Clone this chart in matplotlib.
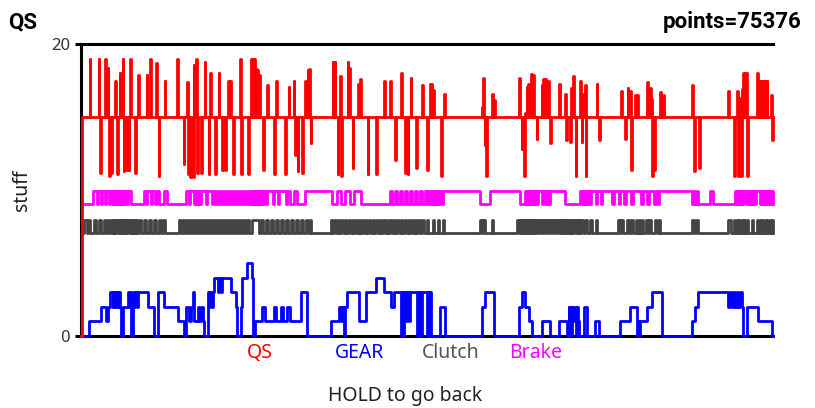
import matplotlib
matplotlib.use("Agg")
import matplotlib.pyplot as plt

plt.rcParams['font.family'] = ['Noto Sans', 'DejaVu Sans']

# ---------------- data (time axis in arbitrary sample units) ----------------
T_START, T_END = 80, 773
TOTAL_POINTS = 75376

# QS: baseline 15 with short pulses up / down
qs_base = 15
qs_spike_t = [88.7, 97.7, 99.3, 104.3, 106.7, 108.3, 110.3, 114.3, 116, 118.7, 121.7, 122.7, 125.3, 127.7,
              129.3, 134.3, 137, 145.7, 149, 155, 157.7, 163.7, 176, 182.7, 186, 187.5, 189.3, 192, 192.7,
              195, 196, 200, 203.7, 207.7, 209.3, 214.3, 217.7, 221.7, 224.3, 227.7, 229.3, 232, 239.3,
              240.5, 247.7, 250, 251.5, 253, 255, 256.5, 258, 262, 266, 273.7, 275.3, 284.3, 288, 293,
              294.7, 297, 301.3, 304.3, 307, 308.7, 310, 332, 334, 337, 339.3, 340.3, 347, 348.7, 352,
              357.3, 359.7, 367, 375.3, 383.7, 389.3, 394.7, 400.7, 404.7, 407, 410, 415.3, 421.3, 426.3,
              429.3, 430.7, 433, 440.7, 444, 481.3, 483, 484.2, 485.7, 492, 494, 519, 521.3, 523.7, 524.7,
              526.3, 528, 530.7, 533, 536.3, 541.3, 543, 544.7, 548, 549.7, 559, 564.7, 565.7, 569.7,
              570.7, 573, 575.3, 579.7, 581.3, 582, 584.7, 585.3, 596.3, 598.7, 620.7, 624.7, 627.3, 630,
              631.2, 634.7, 636.7, 646.7, 649.7, 650.7, 652.3, 654, 660, 663, 692.3, 694, 699, 728.3, 734,
              736.7, 738, 739, 741.3, 741.9, 743.3, 744.8, 745.7, 746.7, 747.3, 757.3, 759, 760.5, 762,
              763.5, 765, 766.5, 771.3, 771.9]
qs_spike_v = [19, 19, 11.2, 19, 18.4, 11.0, 11.2, 17.5, 11.1, 18, 19, 11.3, 11.4, 11.4,
              19, 11.2, 17.9, 17.9, 19, 18.7, 11.0, 17.5, 19, 11.8, 17.4, 11.1, 10.9, 10.9, 18.6,
              19, 11.2, 11.2, 18.8, 11.1, 18, 11.1, 18, 11.4, 11.4, 17.5, 17.5, 11.1, 19,
              11.1, 11.1, 19, 19, 19, 18.3, 18.2, 17.9, 11.4, 17.2, 11.1, 17.5, 11.1, 17.1, 17.5,
              12.4, 11.3, 11.2, 17.5, 18.2, 18.3, 13.2, 18.8, 18.8, 11.1, 17.8, 11.0, 18.8, 18.4, 11.5,
              17.3, 17.6, 11.1, 11.1, 17.45, 17.5, 12.05, 18.0, 11.2, 11.1, 17.7, 11.5, 17.2, 11.4,
              17.3, 17.3, 16.85, 11.0, 16.6, 15.7, 17.65, 13.1, 11.0, 16.6, 16.2, 17.65, 12.85, 11.0, 15.3,
              17.1, 17.3, 17.95, 17.9, 13.5, 17.2, 17.6, 17.6, 17.5, 13.2, 17.3, 16.6, 13.4, 13.3,
              17.0, 17.8, 11.0, 17.5, 13.3, 16.6, 17.2, 11.0, 17.3, 13.4, 16.8, 13.5, 17.0, 16.8,
              11.4, 16.5, 16.5, 17.4, 17.0, 16.25, 11.0, 11.4, 16.7, 16.5, 17.2, 11.3, 11.5, 16.8, 11.0,
              16.8, 11.0, 16.3, 11.0, 16.95, 18.0, 18.0, 18.0, 16.4, 11.0, 18.0, 17.5, 17.5, 17.5,
              17.5, 17.5, 17.5, 16.5, 13.4]

# GEAR: step series (time, gear)
gear_t = [80, 88.3, 100, 105, 106.7, 109.3, 111.7, 112.3, 114.3, 115, 116.7, 117.3, 119, 120, 121.7,
          126.7, 128.3, 129, 130, 131.7, 133.3, 134, 136, 136.7, 146.7, 153.3, 156.7, 163.3, 176.7,
          183.3, 185, 188.3, 190, 191.7, 193.3, 196.7, 198.3, 200, 201.7, 203.3, 206.7, 208.3, 209.3,
          210.7, 211.7, 213.3, 216.7, 218.3, 220, 221.7, 230, 235, 236.7, 240, 241.7, 246.7, 251,
          252.7, 254, 261.7, 264, 273.3, 275, 280, 282.7, 286.7, 289.3, 300, 306.7, 330, 338.3, 340,
          341.7, 343.3, 344.3, 346.7, 358.3, 365, 375, 383.3, 390, 393.3, 400, 401, 402, 403, 405,
          406.5, 408, 409.5, 411.7, 416.7, 417.5, 418.5, 419.5, 420.5, 421.7, 426.7, 427.5, 428.5,
          429.5, 430.5, 440, 445, 481.7, 485, 493.3, 518.3, 521.7, 525, 528.3, 531.7, 541.7, 550,
          558.3, 566.7, 568.3, 569, 570, 571, 572, 573, 574, 576, 577, 578, 579, 583.3, 586.7, 595,
          598.3, 620, 630, 636.7, 637.5, 639, 640, 646.7, 651.7, 661.7, 691.7, 695, 698.3, 728.3,
          730, 732, 733.5, 735, 736.5, 738, 740, 741.5, 743.3, 746.7, 758.3, 771.7, 773]
gear_v = [0, 1, 2, 1, 2, 3, 2, 3, 2, 3, 2, 3, 2, 0, 2,
          3, 2, 3, 0, 3, 2, 3, 2, 3, 2, 0, 3, 2, 1,
          0, 2, 1, 2, 3, 1, 2, 1, 2, 1, 0, 3, 2, 3,
          2, 3, 4, 3, 4, 3, 4, 3, 2, 0, 2, 4, 5, 4,
          0, 1, 2, 1, 2, 1, 2, 1, 2, 1, 3, 0, 1, 2, 1,
          2, 0, 2, 3, 1, 3, 4, 3, 2, 3, 0, 3, 0, 3, 1,
          3, 1, 3, 3, 0, 3, 0, 3, 0, 3, 0, 3, 0,
          3, 0, 2, 0, 2, 3, 0, 2, 3, 2, 1, 0, 1, 0,
          1, 0, 2, 0, 2, 0, 2, 1, 2, 0, 2, 1, 0, 2, 0, 1,
          0, 1, 2, 0, 1, 0, 1, 2, 3, 0, 1, 2, 3, 2,
          3, 2, 3, 2, 3, 2, 3, 2, 0, 2, 1, 0, 0]

# Clutch: on intervals (start, end), off level ~7, on level ~7.9
clutch_off, clutch_on = 7.05, 7.95
clutch_on_start = [83, 87, 93, 98, 103, 107, 111, 113.2, 115.4, 117.6, 119.8, 122, 124.2, 126.4, 128.6,
                   130.8, 133, 135, 138, 143, 148, 153, 158, 162,
                   178, 182, 186, 190, 194, 198, 202, 206, 210, 214, 218, 222, 226, 230, 234, 238, 242,
                   246, 251, 260, 265, 270, 275, 280, 285, 290, 295, 300, 305, 309,
                   330, 333.5, 337, 340.5, 344, 347.5, 351, 354.5, 358, 361.5, 365, 368.5, 372, 375.5,
                   379, 382.5, 386, 389.5, 393, 396.5, 400, 403.5, 407, 410.5, 414, 417.5, 421,
                   426.5, 432.5, 437.5, 442.5, 480, 483, 491.5,
                   517, 519.2, 521.4, 523.6, 525.8, 528, 530.2, 532.4, 534.6, 536.8, 540, 543, 546, 549,
                   552, 555, 558, 560.3, 562.6, 564.9, 567.2, 569.5, 571.8, 574.1, 576.4, 578.7, 581,
                   585, 590, 595.5, 618, 621, 627, 631, 635.5, 638.5, 641.5, 646, 649, 655, 658.5,
                   692, 696, 728, 734, 736.5, 739, 741.5, 744, 746.5, 751.5, 757, 759.5, 762, 764.5,
                   767, 769.5, 771.5]
clutch_on_end = [86, 89, 95, 100, 105, 109.5, 112.2, 114.4, 116.6, 118.8, 121, 123.2, 125.4, 127.6, 129.8,
                 132, 134.2, 136, 140, 145, 150, 155, 160, 164,
                 180.2, 184.2, 188.2, 192.2, 196.2, 200.2, 204.2, 208.2, 212.2, 216.2, 220.2, 224.2,
                 228.2, 232.2, 236.2, 240.2, 244.2, 248.2, 258, 262, 267, 272, 277.5, 282, 287, 292,
                 297, 302, 307, 310.5,
                 331.8, 335.3, 338.8, 342.3, 345.8, 349.3, 352.8, 356.3, 359.8, 363.3, 366.8, 370.3,
                 373.8, 377.3, 380.8, 384.3, 387.8, 391.3, 394.8, 398.3, 401.8, 405.3, 408.8, 412.3,
                 415.8, 419.3, 423,
                 428, 434, 439, 444, 481.5, 484.5, 493,
                 518.4, 520.6, 522.8, 525, 527.2, 529.4, 531.6, 533.8, 536, 538.5, 541.5, 544.5, 547.5,
                 550.5, 553.5, 556.5, 559.4, 561.7, 564, 566.3, 568.6, 570.9, 573.2, 575.5, 577.8, 580.1,
                 582.5, 586.5, 591.5, 597, 619.5, 622.5, 628.5, 632.5, 637, 640, 643, 647.5, 650.5,
                 656.5, 660, 693.5, 697.5, 730.5, 735.3, 737.8, 740.3, 742.8, 745.3, 747.8, 753, 758.3,
                 760.8, 763.3, 765.8, 768.3, 770.8, 772.5]

# Brake: on intervals (start, end), off level ~9, on level ~9.9
brake_off, brake_on = 9.05, 9.95
brake_on_start = [92, 97, 101, 105, 109, 111.8, 113.5, 115.2, 116.9, 118.6, 120.3, 122, 124.3, 127, 143,
                  146.5, 151.5, 156, 163, 185, 189.5, 193.8, 195.8, 197.8, 199.8, 206.5, 212, 216, 220,
                  224, 228, 232, 236, 240, 244, 248, 251.2, 252.7, 254.2, 255.7, 257.2, 258.7, 260.2,
                  261.7, 263.2, 266.5, 273.5, 278.5, 286.5, 293, 304, 336, 344, 353, 389, 394, 399, 404,
                  409, 414, 419, 424, 428, 430.5, 432.3, 434.1, 435.9, 437.7, 439.5, 442.5, 490, 525,
                  526.8, 528.6, 530.4, 532.2, 534, 535.8, 537.6, 543, 546, 547.8, 549.6, 580, 582.3,
                  584.1, 585.9, 587.7, 591, 597, 602, 613.5, 620, 625.5, 632.5, 642.5, 648.5, 655.5, 659,
                  693.5, 696.5, 710, 735, 737.3, 739.3, 741.3, 743.3, 747, 749.3, 751.3, 753.3, 756, 761,
                  762.8, 764.8, 766.8, 768.8, 770.8]
brake_on_end = [96, 100, 104, 108, 111, 112.8, 114.5, 116.2, 117.9, 119.6, 121.3, 123.5, 126, 130, 145.5,
                150.5, 154.5, 158, 166, 188.5, 193, 195, 197, 199, 205.5, 211, 214.5, 218.5, 222.5,
                226.5, 230.5, 234.5, 238.5, 242.5, 246.5, 250.5, 252, 253.5, 255, 256.5, 258, 259.5, 261,
                262.5, 265.5, 272.5, 277.5, 285.5, 289, 296, 331, 340, 349, 360, 391, 396.5, 401.5, 406.5,
                411.5, 416.5, 421.5, 427, 429.5, 431.5, 433.3, 435.1, 436.9, 438.7, 441.5, 480, 520, 526,
                527.8, 529.6, 531.4, 533.2, 535, 536.8, 542, 545, 547, 548.8, 565, 581.5, 583.3,
                585.1, 586.9, 590, 596, 601, 612, 618.5, 624, 631, 641, 647, 654, 657.5, 692,
                695, 698, 713, 736.5, 738.5, 740.5, 742.5, 746, 748.5, 750.5, 752.5, 755, 760, 762,
                764, 766, 768, 770, 772.5]

series_names = ['QS', 'GEAR', 'Clutch', 'Brake']
series_colors = ['#ff0000', '#0000ff', '#555555', '#ff00ff']
line_colors = ['#ff0000', '#0000ff', '#444444', '#ff00ff']
y_ticks = [0, 20]


# ---------------- helpers ----------------
def spikes_to_steps(t0, t1, base, times, vals, width=0.8):
    order = sorted(range(len(times)), key=lambda i: times[i])
    xs, ys = [t0, t0 + 0.6], [0, base]
    for k, i in enumerate(order):
        t, v = times[i], vals[i]
        nxt = times[order[k + 1]] if k + 1 < len(order) else t1
        xs.append(t); ys.append(v)
        end = t + width
        if end < nxt:
            xs.append(end); ys.append(base)
    xs.append(t1); ys.append(base)
    return xs, ys


def intervals_to_steps(t0, t1, off, on, starts, ends):
    xs, ys = [t0 + 1.7], [off]
    for a, b in zip(starts, ends):
        xs += [a, b]; ys += [on, off]
    xs.append(t1); ys.append(off)
    return xs, ys


# ---------------- figure ----------------
fig = plt.figure(figsize=(8.15, 4.08), dpi=100)
ax = fig.add_axes([81 / 815, 1 - 336 / 408, (773 - 81) / 815, (336 - 44.2) / 408])

lw = 2.0
bx, by = intervals_to_steps(T_START, T_END, brake_off, brake_on, brake_on_start, brake_on_end)
ax.plot(bx, by, drawstyle='steps-post', color=line_colors[3], lw=lw, clip_on=False, zorder=3)
cx, cy = intervals_to_steps(T_START, T_END, clutch_off, clutch_on, clutch_on_start, clutch_on_end)
ax.plot(cx, cy, drawstyle='steps-post', color=line_colors[2], lw=lw, clip_on=False, zorder=3)
ax.plot(gear_t, gear_v, drawstyle='steps-post', color=line_colors[1], lw=lw, clip_on=False, zorder=4)
qx, qy = spikes_to_steps(T_START, T_END, qs_base, qs_spike_t, qs_spike_v)
ax.plot(qx, qy, drawstyle='steps-post', color=line_colors[0], lw=lw, clip_on=False, zorder=5)

ax.set_xlim(T_START, T_END)
ax.set_ylim(0, 20)
ax.set_yticks(y_ticks)
ax.set_xticks([])
ax.spines['right'].set_visible(False)
for s in ['left', 'top', 'bottom']:
    ax.spines[s].set_linewidth(2.2)
    ax.spines[s].set_color('black')
ax.tick_params(axis='y', length=4, width=2.2, pad=4, labelsize=12, labelcolor='#333333')

# titles (bold)
title_font = ['Roboto', 'DejaVu Sans']
fig.text(8 / 815, 1 - 22 / 408, 'QS', fontsize=16, fontweight='bold', family=title_font,
         ha='left', va='center')
fig.text(802 / 815, 1 - 22 / 408, f'points={TOTAL_POINTS}', fontsize=16, fontweight='bold',
         family=title_font, ha='right', va='center')

# legend (text only)
legend_x = [260, 360, 451, 536]
for name, col, x in zip(series_names, series_colors, legend_x):
    fig.text(x / 815, 1 - 353 / 408, name, color=col, fontsize=14, ha='center', va='center')

fig.text(405.5 / 815, 1 - 396 / 408, 'HOLD to go back', fontsize=14, ha='center', va='center',
         color='#222222')
fig.text(22 / 815, 1 - 190 / 408, 'stuff', fontsize=14, rotation=90, ha='center', va='center',
         color='#222222')

fig.savefig('out.png', dpi=100)
